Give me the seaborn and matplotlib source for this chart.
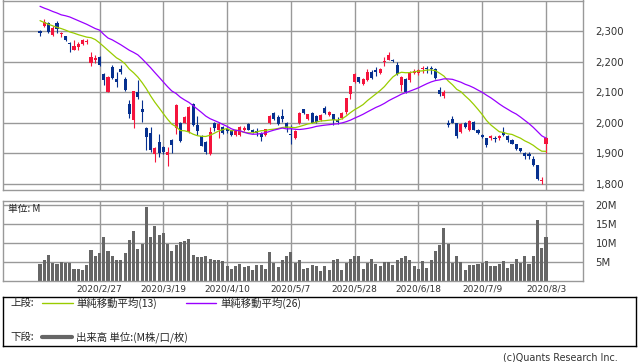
import numpy as np
import pandas as pd
import seaborn as sns
import matplotlib.pyplot as plt
from matplotlib.ticker import FuncFormatter

# daily OHLC, Feb 5 - Aug 3 2020 (trading days, index 0..119)
opens = [2300, 2316, 2327, 2288, 2328, 2290, 2284, 2262, 2240, 2247,
         2260, 2265, 2196, 2205, 2216, 2160, 2101, 2183, 2145, 2178,
         2145, 2061, 2009, 2101, 2045, 1983, 1966, 1898, 1938, 1922,
         1895, 1944, 1982, 1998, 2000, 1971, 2063, 1993, 1957, 1938,
         1898, 1998, 1976, 1985, 1980, 1975, 1960, 1960, 1977, 1996,
         1975, 1974, 1963, 1960, 1998, 2033, 2020, 2022, 1998, 1965,
         1951, 1999, 2044, 2012, 2033, 2022, 2009, 2049, 2025, 2028,
         2008, 2016, 2034, 2096, 2134, 2149, 2129, 2140, 2167, 2172,
         2164, 2200, 2207, 2207, 2189, 2123, 2143, 2140, 2165, 2164,
         2175, 2180, 2181, 2178, 2107, 2088, 2000, 2014, 1998, 1970,
         2000, 1976, 2003, 1977, 1960, 1949, 1952, 1952, 1949, 1970,
         1956, 1945, 1930, 1916, 1902, 1897, 1881, 1861, 1810, 1932]
highs = [2305, 2340, 2332, 2318, 2333, 2297, 2285, 2265, 2270, 2266,
         2276, 2275, 2232, 2222, 2218, 2162, 2152, 2190, 2167, 2190,
         2150, 2074, 2106, 2140, 2074, 1985, 1987, 1920, 1965, 1925,
         1922, 1946, 2062, 2003, 2022, 2055, 2066, 2023, 1960, 1942,
         1985, 2003, 2003, 1990, 1985, 1978, 1978, 1990, 1990, 1998,
         1980, 1982, 1971, 1981, 2025, 2036, 2025, 2047, 2003, 1993,
         1975, 2035, 2046, 2030, 2036, 2025, 2028, 2055, 2040, 2030,
         2020, 2034, 2082, 2122, 2162, 2151, 2147, 2178, 2172, 2183,
         2180, 2215, 2232, 2210, 2198, 2153, 2146, 2170, 2178, 2178,
         2186, 2186, 2186, 2180, 2118, 2109, 2011, 2022, 2000, 1998,
         2003, 2010, 2005, 1980, 1965, 1950, 1960, 1956, 1960, 1985,
         1960, 1948, 1932, 1918, 1904, 1905, 1890, 1863, 1822, 1953]
lows = [2285, 2314, 2295, 2285, 2295, 2280, 2268, 2232, 2238, 2240,
        2256, 2257, 2186, 2196, 2185, 2124, 2100, 2143, 2118, 2160,
        2104, 2017, 1983, 2078, 2003, 1911, 1905, 1873, 1889, 1898,
        1860, 1900, 1965, 1938, 1998, 1968, 1990, 1960, 1924, 1898,
        1895, 1973, 1950, 1962, 1966, 1958, 1957, 1958, 1972, 1975,
        1966, 1957, 1941, 1958, 1996, 2010, 1994, 2003, 1971, 1931,
        1948, 1997, 2029, 2008, 1998, 2000, 2006, 2028, 2022, 1993,
        1996, 2014, 2030, 2078, 2132, 2132, 2125, 2138, 2143, 2153,
        2160, 2185, 2205, 2200, 2158, 2105, 2098, 2133, 2160, 2158,
        2162, 2165, 2160, 2144, 2087, 2083, 1985, 1998, 1952, 1968,
        1983, 1972, 1975, 1964, 1949, 1921, 1945, 1938, 1943, 1956,
        1938, 1930, 1910, 1905, 1883, 1880, 1858, 1812, 1799, 1900]
closes = [2293, 2330, 2298, 2312, 2306, 2293, 2272, 2257, 2252, 2260,
          2271, 2268, 2216, 2214, 2190, 2140, 2150, 2146, 2134, 2167,
          2108, 2029, 2104, 2086, 2036, 1953, 1911, 1918, 1900, 1903,
          1905, 1926, 2060, 1941, 2020, 2052, 1993, 1972, 1925, 1906,
          1971, 1984, 1996, 1966, 1972, 1961, 1975, 1987, 1984, 1977,
          1970, 1968, 1955, 1979, 2023, 2013, 1997, 2013, 1982, 1961,
          1973, 2032, 2031, 2028, 2000, 2004, 2025, 2033, 2036, 2011,
          2003, 2033, 2080, 2120, 2159, 2135, 2143, 2167, 2146, 2168,
          2178, 2203, 2224, 2202, 2160, 2151, 2100, 2164, 2170, 2172,
          2179, 2177, 2176, 2146, 2093, 2102, 1994, 2000, 1957, 1996,
          1985, 2005, 1977, 1968, 1955, 1927, 1957, 1946, 1957, 1960,
          1943, 1932, 1913, 1908, 1892, 1892, 1862, 1817, 1814, 1951]
# volume in millions of shares
volumes = [4.4, 5.4, 6.8, 4.7, 4.4, 4.9, 4.7, 4.7, 3.1, 3.1,
           2.8, 4.1, 8.1, 6.5, 7.4, 11.6, 7.8, 6.5, 5.4, 5.4,
           7.4, 10.7, 13.1, 8.3, 9.8, 19.5, 11.6, 14.5, 12.2, 12.6,
           9.8, 7.8, 9.4, 10.3, 10.5, 11.0, 6.8, 6.3, 6.3, 6.5,
           5.9, 5.6, 5.4, 5.2, 3.9, 3.2, 3.9, 4.4, 3.7, 3.9,
           2.8, 4.1, 4.1, 3.1, 7.6, 4.7, 3.7, 5.4, 6.5, 7.6,
           4.7, 5.4, 3.1, 3.3, 4.1, 3.9, 2.5, 3.9, 2.8, 5.4,
           5.7, 2.8, 4.7, 5.9, 6.5, 6.5, 3.1, 4.7, 5.9, 4.4,
           3.9, 4.9, 4.9, 4.1, 5.6, 6.1, 6.5, 5.4, 3.9, 3.1,
           5.2, 3.3, 5.4, 7.8, 9.4, 13.9, 9.8, 4.7, 6.5, 4.9,
           2.8, 4.1, 4.1, 4.4, 4.7, 5.2, 3.9, 3.9, 4.4, 5.2,
           3.3, 4.4, 5.9, 4.7, 6.5, 4.4, 6.5, 16.0, 8.7, 11.5]
# moving averages at the start of the window (they use closes before Feb 5)
sma13_head = [2335, 2329, 2323, 2318, 2313, 2309, 2304, 2298, 2294, 2289,
              2285, 2281]
sma26_head = [2382, 2376, 2371, 2365, 2360, 2354, 2351, 2347, 2341, 2335,
              2329, 2323, 2316, 2309, 2304, 2290, 2278, 2272, 2264, 2256,
              2247, 2238, 2231, 2223, 2210]

tick_pos = [14, 29, 44, 59, 74, 89, 104, 119]
tick_labels = ['2020/2/27', '2020/3/19', '2020/4/10', '2020/5/7',
               '2020/5/28', '2020/6/18', '2020/7/9', '2020/8/3']
price_ticks = [1800, 1900, 2000, 2100, 2200, 2300]
vol_ticks = [5, 10, 15, 20]
vol_labels = ['5M', '10M', '15M', '20M']

RED = '#F5143C'
BLUE = '#06308F'
GREEN = '#99CC00'
PURPLE = '#9900FF'
GRID = '#999999'

df = pd.DataFrame({'open': opens, 'high': highs, 'low': lows,
                   'close': closes, 'volume': volumes})
df['idx'] = np.arange(len(df))
df['sma13'] = df['close'].rolling(13).mean()
df.loc[:11, 'sma13'] = sma13_head
df['sma26'] = df['close'].rolling(26).mean()
df.loc[:24, 'sma26'] = sma26_head

sns.set_theme(style='white')
plt.rcParams['font.family'] = ['DejaVu Sans', 'Noto Sans CJK JP']

W, H = 638, 362
fig = plt.figure(figsize=(W / 100, H / 100), dpi=100)


def px_axes(x0, y0, x1, y1):
    return fig.add_axes([x0 / W, 1 - y1 / H, (x1 - x0) / W, (y1 - y0) / H])


ax_p = px_axes(3, 0.5, 583, 190)
ax_v = px_axes(3, 201, 583, 281)
xlim = (-8.7, 127.7)

# candles
up = df['close'] >= df['open']
colors = np.where(up, RED, BLUE)
body_lo = df[['open', 'close']].min(axis=1)
body_h = (df['close'] - df['open']).abs().clip(lower=2.5)
ax_p.vlines(df['idx'], df['low'], df['high'], colors=colors, lw=0.8, zorder=2)
ax_p.bar(df['idx'], body_h, bottom=body_lo, width=0.72, color=colors,
         linewidth=0, zorder=3)
sns.lineplot(data=df, x='idx', y='sma13', color=GREEN, lw=0.9, ax=ax_p, zorder=4)
sns.lineplot(data=df, x='idx', y='sma26', color=PURPLE, lw=0.9, ax=ax_p, zorder=4)

# volume
sns.barplot(data=df, x='idx', y='volume', native_scale=True, color='#666666',
            saturation=1, width=0.72, errorbar=None, linewidth=0, ax=ax_v)

for ax in (ax_p, ax_v):
    ax.set_xlim(*xlim)
    ax.set_xticks(tick_pos)
    ax.set_xlabel('')
    ax.set_ylabel('')
    ax.yaxis.tick_right()
    ax.grid(True, color=GRID, lw=1)
    ax.set_axisbelow(True)
    ax.tick_params(axis='y', length=0, pad=9, labelsize=7.3, colors='#333333')
    for s in ax.spines.values():
        s.set_color(GRID)
        s.set_linewidth(1)

ax_p.set_ylim(1780, 2401)
ax_p.set_yticks(price_ticks)
ax_p.yaxis.set_major_formatter(FuncFormatter(lambda v, p: f'{v:,.0f}'))
ax_p.tick_params(axis='x', length=0, labelbottom=False)

ax_v.set_ylim(0, 21.05)
ax_v.set_yticks(vol_ticks, vol_labels)
ax_v.set_xticklabels(tick_labels)
ax_v.tick_params(axis='x', length=0, pad=2.5, labelsize=6.5, colors='#333333')

fig.text(8 / W, 1 - 209 / H, '単位: M', fontsize=7, va='center', color='#222222',
         family=['Noto Sans CJK JP', 'DejaVu Sans'])

# legend box
ax_l = px_axes(3, 297, 636, 346)
ax_l.set_xlim(0, 633)
ax_l.set_ylim(49, 0)
ax_l.set_xticks([])
ax_l.set_yticks([])
for s in ax_l.spines.values():
    s.set_color('black')
    s.set_linewidth(1)
jp = ['Noto Sans CJK JP', 'DejaVu Sans']
ax_l.text(7, 6, '上段:', fontsize=7.5, va='center', family=jp)
ax_l.plot([39, 70], [6, 6], color=GREEN, lw=1)
ax_l.text(73, 6, '単純移動平均(13)', fontsize=7.5, va='center', family=jp)
ax_l.plot([183, 213], [6, 6], color=PURPLE, lw=1)
ax_l.text(217, 6, '単純移動平均(26)', fontsize=7.5, va='center', family=jp)
ax_l.text(7, 40, '下段:', fontsize=7.5, va='center', family=jp)
ax_l.plot([39, 69], [40, 40], color='#666666', lw=3)
ax_l.text(73, 40, '出来高 単位:(M株/口/枚)', fontsize=7.5, va='center', family=jp)

fig.text(618 / W, 1 - 357 / H, '(c)Quants Research Inc.', fontsize=6.9,
         ha='right', va='center', color='#333333')

fig.savefig('out.png', dpi=100)
